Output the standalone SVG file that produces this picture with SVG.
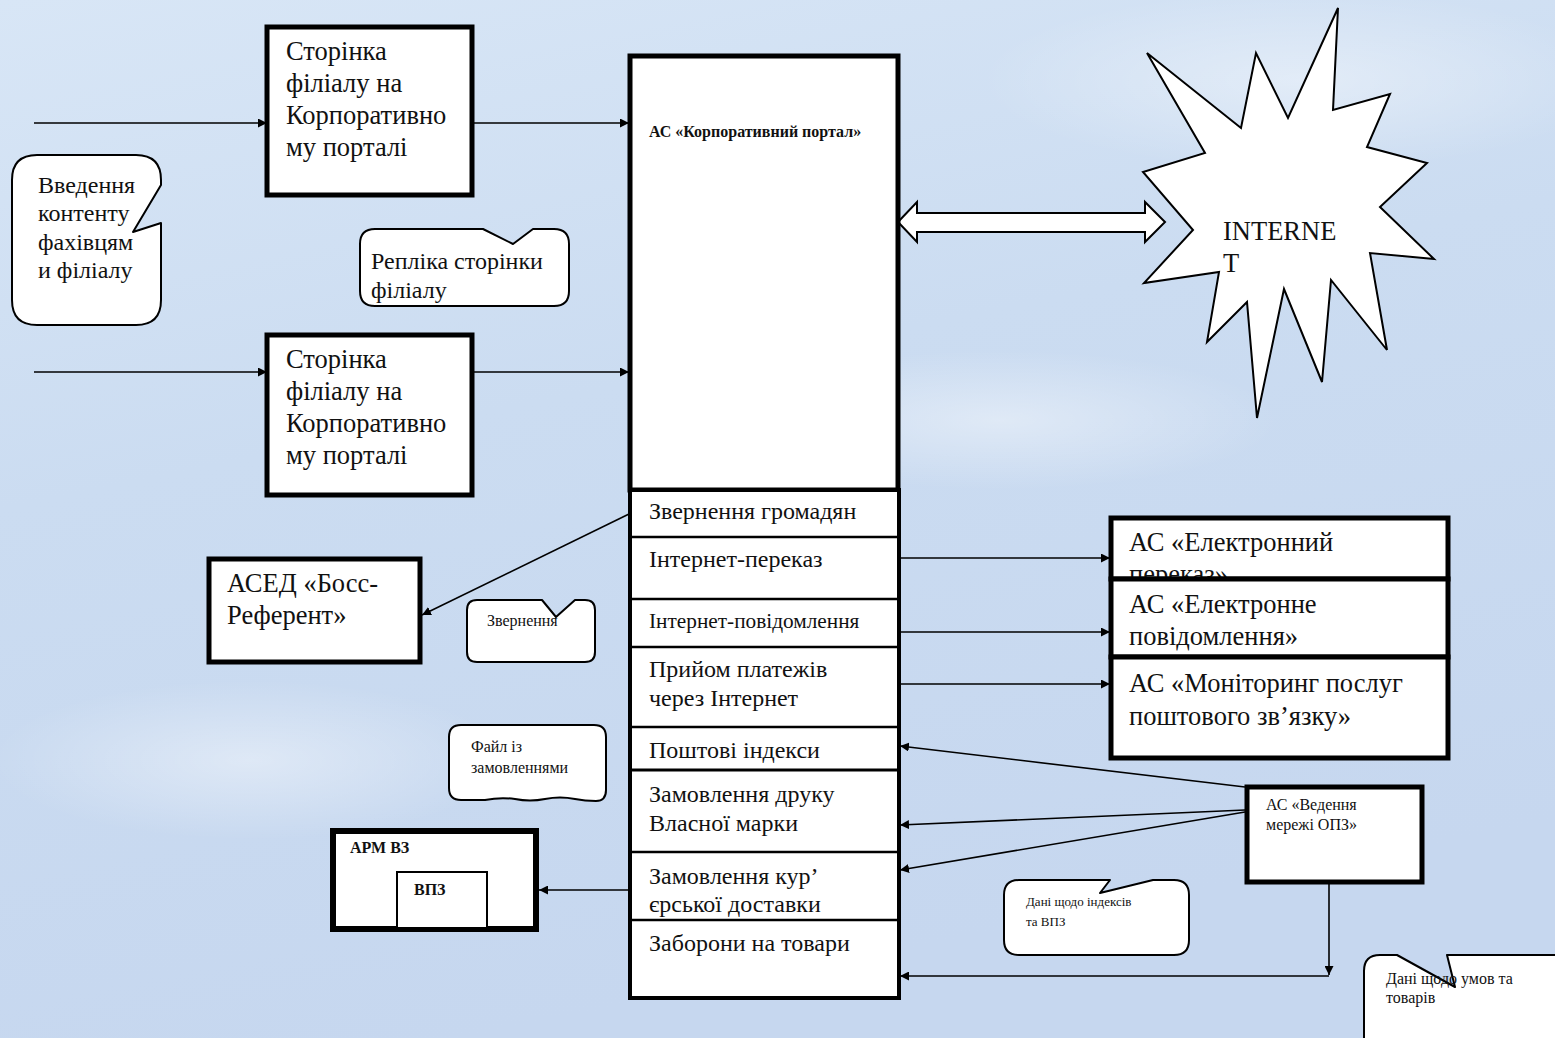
<svg xmlns="http://www.w3.org/2000/svg" width="1555" height="1038" viewBox="0 0 1555 1038">
<defs>
<linearGradient id="sky" x1="0" y1="0" x2="0.3" y2="1">
<stop offset="0" stop-color="#d8e6f6"/>
<stop offset="0.45" stop-color="#cbdcf1"/>
<stop offset="1" stop-color="#c6d7ef"/>
</linearGradient>
<radialGradient id="cloud" cx="0.5" cy="0.5" r="0.5">
<stop offset="0" stop-color="#ffffff" stop-opacity="0.4"/>
<stop offset="1" stop-color="#ffffff" stop-opacity="0"/>
</radialGradient>
<marker id="ah" viewBox="0 0 10 10" refX="10" refY="5" markerWidth="9" markerHeight="9" markerUnits="userSpaceOnUse" orient="auto">
<path d="M0,0 L10,5 L0,10 z" fill="#000"/>
</marker>
<style>
.t{font-family:"Liberation Serif","Times New Roman",serif;fill:#111;}
.big{font-size:26.5px;}
.mid{font-size:24px;}
.sm{font-size:16px;}
.xs{font-size:13px;}
.b{font-weight:bold;}
.box{fill:#fff;stroke:#000;stroke-width:5;}
.call{fill:#fff;stroke:#000;stroke-width:2;stroke-linejoin:round;}
.con{fill:none;stroke:#000;stroke-width:1.6;marker-end:url(#ah);}
</style>
</defs>
<rect width="1555" height="1038" fill="url(#sky)"/>
<ellipse cx="1300" cy="80" rx="320" ry="90" fill="url(#cloud)"/>
<ellipse cx="250" cy="760" rx="260" ry="80" fill="url(#cloud)"/>
<ellipse cx="1000" cy="420" rx="280" ry="70" fill="url(#cloud)"/>

<g id="connectors">
<line class="con" x1="34" y1="123" x2="267" y2="123"/>
<line class="con" x1="34" y1="372" x2="267" y2="372"/>
<line class="con" x1="472" y1="123" x2="629" y2="123"/>
<line class="con" x1="472" y1="372" x2="629" y2="372"/>
<line class="con" x1="629" y1="514" x2="422" y2="615"/>
<line class="con" x1="629" y1="890" x2="539" y2="890"/>
<line class="con" x1="900" y1="558" x2="1110" y2="558"/>
<line class="con" x1="900" y1="632" x2="1110" y2="632"/>
<line class="con" x1="900" y1="684" x2="1110" y2="684"/>
<line class="con" x1="1245" y1="787" x2="900" y2="746"/>
<line class="con" x1="1245" y1="810" x2="900" y2="825"/>
<line class="con" x1="1245" y1="812" x2="900" y2="870"/>
<line class="con" x1="1329" y1="884" x2="1329" y2="975"/>
<line class="con" x1="1329" y1="976" x2="900" y2="976"/>
<path id="double-arrow" d="M898,222 L917,202 L917,213 L1145,213 L1145,202 L1165,222 L1145,242 L1145,232 L917,232 L917,242 Z" fill="#fff" stroke="#000" stroke-width="2"/>
</g>

<g id="callout-vvedennia">
<path class="call" d="M37,155 H136 Q161,155 161,180 V185 L133,232 L161,223 V300 Q161,325 136,325 H37 Q12,325 12,300 V180 Q12,155 37,155 Z"/>
<text class="t mid" x="38" y="193">Введення</text>
<text class="t mid" x="38" y="221">контенту</text>
<text class="t mid" x="38" y="250">фахівцям</text>
<text class="t mid" x="38" y="278">и філіалу</text>
</g>

<g id="page1">
<rect class="box" x="267" y="27" width="205" height="168"/>
<text class="t big" x="286" y="60">Сторінка</text>
<text class="t big" x="286" y="92">філіалу на</text>
<text class="t big" x="286" y="124">Корпоративно</text>
<text class="t big" x="286" y="156">му порталі</text>
</g>

<g id="page2">
<rect class="box" x="267" y="335" width="205" height="160"/>
<text class="t big" x="286" y="368">Сторінка</text>
<text class="t big" x="286" y="400">філіалу на</text>
<text class="t big" x="286" y="432">Корпоративно</text>
<text class="t big" x="286" y="464">му порталі</text>
</g>

<g id="callout-replika">
<path class="call" d="M375,229 H483 L513,244 L533,229 H554 Q569,229 569,244 V291 Q569,306 554,306 H375 Q360,306 360,291 V244 Q360,229 375,229 Z"/>
<text class="t mid" x="371" y="269">Репліка сторінки</text>
<text class="t mid" x="371" y="298">філіалу</text>
</g>

<g id="portal">
<rect class="box" x="630" y="56" width="268" height="434"/>
<text class="t sm b" x="649" y="137">АС «Корпоративний портал»</text>
</g>

<g id="portal-rows">
<rect x="630" y="490" width="269" height="508" fill="#fff" stroke="#000" stroke-width="4"/>
<line x1="630" y1="537" x2="899" y2="537" stroke="#000" stroke-width="2.5"/>
<line x1="630" y1="599" x2="899" y2="599" stroke="#000" stroke-width="2.5"/>
<line x1="630" y1="647" x2="899" y2="647" stroke="#000" stroke-width="2.5"/>
<line x1="630" y1="727" x2="899" y2="727" stroke="#000" stroke-width="2.5"/>
<line x1="630" y1="770" x2="899" y2="770" stroke="#000" stroke-width="3"/>
<line x1="630" y1="852" x2="899" y2="852" stroke="#000" stroke-width="2.5"/>
<line x1="630" y1="920" x2="899" y2="920" stroke="#000" stroke-width="2.5"/>
<text class="t mid" x="649" y="519">Звернення громадян</text>
<text class="t mid" x="649" y="567">Інтернет-переказ</text>
<text class="t" style="font-size:21.3px" x="649" y="628">Інтернет-повідомлення</text>
<text class="t mid" x="649" y="677">Прийом платежів</text>
<text class="t mid" x="649" y="706">через Інтернет</text>
<text class="t mid" x="649" y="758">Поштові індекси</text>
<text class="t mid" x="649" y="802">Замовлення друку</text>
<text class="t mid" x="649" y="831">Власної марки</text>
<text class="t mid" x="649" y="884">Замовлення кур’</text>
<text class="t mid" x="649" y="912">єрської доставки</text>
<text class="t mid" x="649" y="951">Заборони на товари</text>
</g>

<g id="internet">
<polygon points="1338,8 1333,110 1390,94 1367,147 1427,163 1380,207 1434,259 1370,253 1387,350 1331,280 1322,382 1284,289 1257,418 1247,302 1207,342 1219,272 1144,283 1193,230 1143,172 1205,153 1147,53 1241,128 1256,53 1288,118" fill="#fff" stroke="#000" stroke-width="2"/>
<text class="t" style="font-size:26.5px" x="1223" y="240">INTERNE</text>
<text class="t" style="font-size:26.5px" x="1223" y="272">T</text>
</g>

<g id="boss">
<rect class="box" x="209" y="559" width="211" height="103"/>
<text class="t big" x="227" y="592">АСЕД «Босс-</text>
<text class="t big" x="227" y="624">Референт»</text>
</g>

<g id="callout-zvernennia">
<path class="call" d="M477,600 H542 L556,617 L575,600 H585 Q595,600 595,610 V652 Q595,662 585,662 H477 Q467,662 467,652 V610 Q467,600 477,600 Z"/>
<text class="t sm" x="487" y="626">Звернення</text>
</g>

<g id="callout-fail">
<path class="call" d="M461,725 H594 Q606,725 606,737 V790 Q606,801 596,801 Q585,801 575,799 Q560,796 545,799 Q530,802 515,799 Q500,797 485,800 L461,800 Q449,800 449,788 V737 Q449,725 461,725 Z"/>
<text class="t sm" x="471" y="752">Файл із</text>
<text class="t sm" x="471" y="773">замовленнями</text>
</g>

<g id="arm">
<rect x="333" y="831" width="203" height="98" fill="#fff" stroke="#000" stroke-width="6"/>
<rect x="397" y="872" width="90" height="56" fill="#fff" stroke="#000" stroke-width="2"/>
<text class="t sm b" x="350" y="853">АРМ ВЗ</text>
<text class="t sm b" x="414" y="895">ВПЗ</text>
</g>

<g id="e-transfer">
<rect class="box" x="1111" y="518" width="337" height="61"/>
<text class="t big" x="1129" y="551">АС «Електронний</text>
<text class="t big" x="1129" y="583">переказ»</text>
</g>

<g id="e-message">
<rect class="box" x="1111" y="579" width="337" height="78"/>
<text class="t big" x="1129" y="613">АС «Електронне</text>
<text class="t big" x="1129" y="645">повідомлення»</text>
</g>

<g id="monitoring">
<rect class="box" x="1111" y="657" width="337" height="101"/>
<text class="t big" x="1129" y="692">АС «Моніторинг послуг</text>
<text class="t big" x="1129" y="725">поштового зв’язку»</text>
</g>

<g id="opz">
<rect class="box" x="1247" y="787" width="175" height="95"/>
<text class="t sm" x="1266" y="810">АС «Ведення</text>
<text class="t sm" x="1266" y="830">мережі ОПЗ»</text>
</g>

<g id="callout-indeksy">
<path class="call" d="M1019,880 H1110 L1100,893 L1153,880 H1174 Q1189,880 1189,895 V940 Q1189,955 1174,955 H1019 Q1004,955 1004,940 V895 Q1004,880 1019,880 Z"/>
<text class="t xs" x="1026" y="906">Дані щодо індексів</text>
<text class="t xs" x="1026" y="926">та ВПЗ</text>
</g>

<g id="callout-umovy">
<path class="call" d="M1380,955 H1397 L1455,987 L1447,955 H1565 V1045 H1364 V971 Q1364,955 1380,955 Z"/>
<text class="t sm" x="1386" y="984">Дані щодо умов та</text>
<text class="t sm" x="1386" y="1003">товарів</text>
</g>
</svg>
